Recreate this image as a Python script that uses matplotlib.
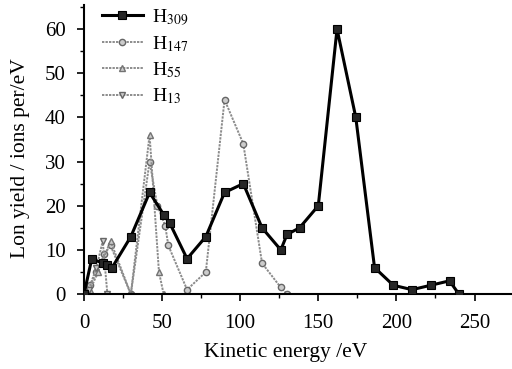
import matplotlib
matplotlib.use("Agg")
import matplotlib.pyplot as plt
from matplotlib.ticker import MultipleLocator

plt.rcParams['font.family'] = ['Liberation Serif', 'DejaVu Serif']
plt.rcParams['mathtext.fontset'] = 'stix'

# series
h309_x = [0, 5, 12, 15, 18, 30, 42, 51, 55, 66, 78, 90, 102, 114, 126, 130, 138, 150, 162, 174, 186, 198, 210, 222, 234, 240]
h309_y = [0, 8, 7, 6.5, 6, 13, 23, 18, 16, 8, 13, 23, 25, 15, 10, 13.5, 15, 20, 60, 40, 6, 2, 1, 2, 3, 0]

h147_x = [0, 4, 8, 13, 17, 30, 42, 47, 52, 54, 66, 78, 90, 102, 114, 126, 130]
h147_y = [0, 2, 5, 9, 11, 0, 30, 20, 15.5, 11, 1, 5, 44, 34, 7, 1.5, 0]

h55_x = [0, 4, 9, 17, 30, 42, 48, 51]
h55_y = [0, 1, 5, 12, 0, 36, 5, 0]

h13_x = [0, 3, 8, 12, 15]
h13_y = [0, 1, 6, 12, 0]

labels = [r'H$_{309}$', r'H$_{147}$', r'H$_{55}$', r'H$_{13}$']

fig = plt.figure(figsize=(5.12, 3.69), dpi=100)
ax = fig.add_axes([0.164, 0.203, 0.836, 0.783])

gray = '0.55'
dots = (0, (1.2, 0.6))
ax.plot(h309_x, h309_y, color='black', lw=2.2, marker='s', ms=5.5,
        mfc='0.15', mec='black', mew=0.8, label=labels[0], zorder=5)
ax.plot(h147_x, h147_y, color=gray, lw=1.4, ls=dots, marker='o', ms=4.5,
        mfc='0.8', mec='0.4', mew=1.0, label=labels[1])
ax.plot(h55_x, h55_y, color=gray, lw=1.4, ls=dots, marker='^', ms=4.5,
        mfc='0.8', mec='0.45', mew=1.0, label=labels[2])
ax.plot(h13_x, h13_y, color=gray, lw=1.4, ls=dots, marker='v', ms=4.5,
        mfc='0.8', mec='0.4', mew=1.0, label=labels[3])

ax.set_xlim(0, 274)
ax.set_ylim(0, 65.4)
ax.xaxis.set_major_locator(MultipleLocator(50))
ax.xaxis.set_minor_locator(MultipleLocator(25))
ax.yaxis.set_major_locator(MultipleLocator(10))
ax.yaxis.set_minor_locator(MultipleLocator(5))

for s in ['top', 'right']:
    ax.spines[s].set_visible(False)
for s in ['left', 'bottom']:
    ax.spines[s].set_linewidth(1.5)

ax.tick_params(which='major', length=5, width=1.2, labelsize=15, direction='out')
ax.tick_params(which='minor', length=3, width=1.0, direction='out')
ax.tick_params(axis='x', pad=9)
ax.tick_params(axis='y', pad=8)

ax.set_xlabel('Kinetic energy /eV', fontsize=15.5)
ax.xaxis.set_label_coords(0.472, -0.17)
ax.set_ylabel('Lon yield / ions per/eV', fontsize=15.5)
ax.yaxis.set_label_coords(-0.125, 0.47)

leg = ax.legend(loc='upper left', bbox_to_anchor=(0.01, 1.04), frameon=False,
                fontsize=14, handlelength=2.1, labelspacing=0.33, handletextpad=0.5,
                borderaxespad=0.3)

fig.savefig('out.png', dpi=100)
